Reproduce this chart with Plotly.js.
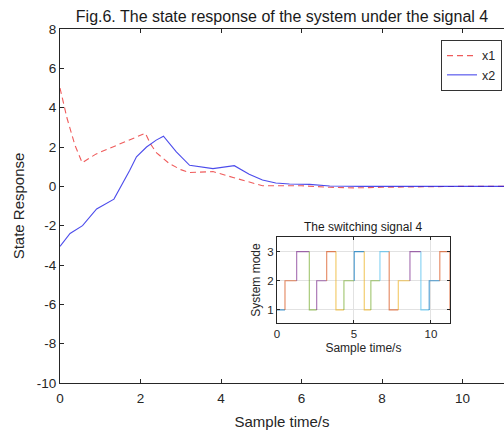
<!DOCTYPE html>
<html>
<head>
<meta charset="utf-8">
<script src="https://cdn.plot.ly/plotly-3.0.1.min.js"></script>
<style>html,body{margin:0;padding:0;background:#fff;}#chart{width:504px;height:433px;}</style>
</head>
<body>
<div id="chart"></div>
<script>
// ---- data ----
var tX1 = [0, 0.17, 0.37, 0.55, 0.9, 1.32, 1.7, 2.12, 2.25, 2.4, 2.72, 3.0, 3.22, 3.8, 4.3, 4.7, 5.03, 5.5, 6.0, 6.7, 7.3, 8.0, 9.0, 10.0, 11.2];
var x1  = [5.0, 3.5, 2.1, 1.2, 1.65, 2.0, 2.35, 2.7, 2.15, 1.7, 1.15, 0.85, 0.7, 0.75, 0.45, 0.2, 0.03, 0.03, 0.03, -0.05, -0.08, -0.05, -0.02, 0, 0];
var tX2 = [0, 0.25, 0.56, 0.91, 1.34, 1.53, 1.73, 1.9, 2.15, 2.39, 2.57, 2.89, 3.22, 3.8, 4.33, 4.7, 5.03, 5.36, 5.7, 6.2, 6.7, 7.5, 8.5, 10, 11.2];
var x2  = [-3.05, -2.4, -2.0, -1.15, -0.65, 0.05, 0.81, 1.5, 2.0, 2.35, 2.55, 1.75, 1.07, 0.9, 1.05, 0.62, 0.32, 0.17, 0.12, 0.1, 0.02, 0, 0, 0, 0];
var switchTimes = [0, 0.52, 1.28, 2.1, 2.58, 3.23, 3.83, 4.35, 5.02, 5.67, 6.1, 6.69, 7.29, 7.88, 8.64, 9.35, 9.89, 10.58, 11.23];
var modes       = [1, 2, 3, 1, 2, 3, 1, 2, 3, 1, 2, 3, 1, 2, 3, 1, 2, 3, 1];
var xTicksMain = [0, 2, 4, 6, 8, 10];
var yTicksMain = [-10, -8, -6, -4, -2, 0, 2, 4, 6, 8];
var xTicksInset = [0, 5, 10];
var yTicksInset = [1, 2, 3];

// ---- styles ----
var segColors = ['#0072BD','#D95319','#7E2F8E','#77AC30','#7E2F8E','#D95319','#EDB120','#77AC30','#0072BD',
                 '#EDB120','#77AC30','#4DBEEE','#D95319','#EDB120','#7E2F8E','#4DBEEE','#0072BD','#D95319','#D95319'];
var FONT = 'Liberation Sans, Arial, Helvetica, sans-serif';
var INK = '#262626';
var endTime = 11.6;
function labels(arr) { return arr.map(function (v) { return String(v); }); }

var traces = [
  {x: tX1, y: x1, name: 'x1', type: 'scatter', mode: 'lines', xaxis: 'x', yaxis: 'y',
   line: {color: 'rgba(235,50,50,0.8)', width: 1.1, dash: '6px,4px'}},
  {x: tX2, y: x2, name: 'x2', type: 'scatter', mode: 'lines', xaxis: 'x', yaxis: 'y',
   line: {color: 'rgba(30,30,230,0.8)', width: 1.1}}
];

for (var i = 0; i < modes.length; i++) {
  var tEnd = (i + 1 < switchTimes.length) ? switchTimes[i + 1] : endTime;
  var xs, ys;
  if (i === 0) { xs = [switchTimes[0], tEnd]; ys = [modes[0], modes[0]]; }
  else { xs = [switchTimes[i], switchTimes[i], tEnd]; ys = [modes[i - 1], modes[i], modes[i]]; }
  traces.push({x: xs, y: ys, type: 'scatter', mode: 'lines', xaxis: 'x2', yaxis: 'y2', showlegend: false,
    hoverinfo: 'skip', opacity: 0.7, line: {color: segColors[i % segColors.length], width: 1.1}});
}

var layout = {
  width: 504, height: 433,
  margin: {l: 60, r: 0, t: 29, b: 50},
  paper_bgcolor: '#fff', plot_bgcolor: '#fff',
  font: {family: FONT, color: INK, size: 13},
  title: {text: 'Fig.6. The state response of the system under the signal 4',
          font: {family: FONT, size: 16, color: '#1a1a1a'}, x: 0.5, xref: 'paper', xanchor: 'center',
          y: 0.962, yref: 'container', yanchor: 'middle'},
  showlegend: true,
  legend: {x: 0.9955, y: 0.969, xanchor: 'right', yanchor: 'top', bgcolor: '#fff',
           bordercolor: '#333', borderwidth: 1, font: {family: FONT, size: 12.5, color: INK},
           tracegroupgap: 0},
  xaxis: {domain: [0, 1], range: [0, 11.03], tickvals: xTicksMain, ticktext: labels(xTicksMain),
          ticks: 'inside', ticklen: 4, ticklabelstandoff: 3,
          tickcolor: INK, showline: true, linecolor: INK, linewidth: 1, mirror: 'ticks',
          showgrid: false, zeroline: false, tickfont: {size: 13.5, color: INK},
          title: {text: 'Sample time/s', font: {size: 15, color: INK}, standoff: 11}},
  yaxis: {domain: [0, 1], range: [-10, 8], tickvals: yTicksMain, ticktext: labels(yTicksMain),
          ticks: 'inside', ticklen: 4,
          tickcolor: INK, showline: true, linecolor: INK, linewidth: 1, mirror: false,
          showgrid: false, zeroline: false, tickfont: {size: 13.5, color: INK},
          title: {text: 'State Response', font: {size: 15, color: INK}, standoff: 8}},
  xaxis2: {domain: [0.4887, 0.878], anchor: 'y2', range: [0, 11.23], tickvals: xTicksInset,
           ticktext: labels(xTicksInset),
           ticks: 'inside', ticklen: 3, tickcolor: INK, showline: true, linecolor: INK, mirror: 'ticks',
           showgrid: true, gridcolor: '#e2e2e2', zeroline: false, tickfont: {size: 11.5, color: INK},
           title: {text: 'Sample time/s', font: {size: 12, color: INK}, standoff: 4}},
  yaxis2: {domain: [0.1695, 0.4124], anchor: 'x2', range: [0.55, 3.5], tickvals: yTicksInset,
           ticktext: labels(yTicksInset),
           ticks: 'inside', ticklen: 3, tickcolor: INK, showline: true, linecolor: INK, mirror: 'ticks',
           showgrid: true, gridcolor: '#e2e2e2', zeroline: false, tickfont: {size: 11.5, color: INK},
           title: {text: 'System mode', font: {size: 12, color: INK}, standoff: 4}},
  annotations: [
    {text: 'The switching signal 4', xref: 'x2 domain', yref: 'y2 domain', x: 0.5, y: 1, xanchor: 'center',
     yanchor: 'bottom', yshift: 1, showarrow: false, font: {family: FONT, size: 12, color: '#1a1a1a'}}
  ]
};

Plotly.newPlot('chart', traces, layout, {displayModeBar: false, staticPlot: true});
</script>
</body>
</html>
